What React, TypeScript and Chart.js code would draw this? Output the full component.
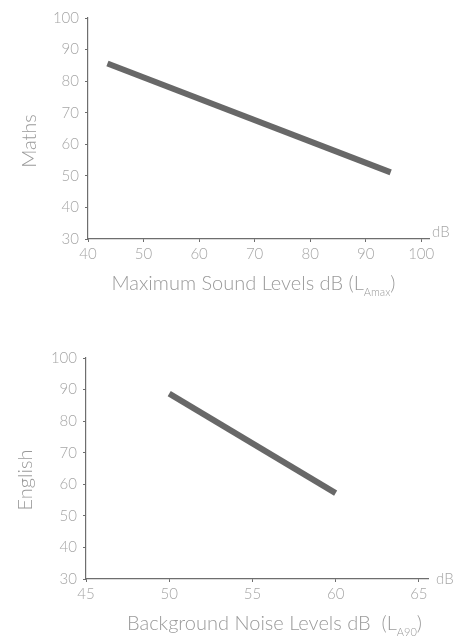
import React, { useEffect, useRef } from "react";
import { Chart, registerables } from "chart.js";

Chart.register(...registerables);

const yTicks = [30, 40, 50, 60, 70, 80, 90, 100];
const mathsXTicks = [40, 50, 60, 70, 80, 90, 100];
const englishXTicks = [45, 50, 55, 60, 65];
const mathsX = [43.5, 94.5];
const mathsY = [85.6, 51.1];
const englishX = [50, 60];
const englishY = [88.7, 57.2];

const FONT = "Lato, 'Open Sans', sans-serif";
const TICK_COLOR = "#a6a6a6";
const TITLE_COLOR = "#9a9a9a";
const AXIS_COLOR = "#6e6e6e";

type Cfg = {
  xs: number[];
  ys: number[];
  xTicks: number[];
  xMin: number;
  xMax: number;
  height: number;
  yWidth: number;
  xHeight: number;
  pad: { left: number; top: number; right: number; bottom: number };
  xTitle: string;
  sub: string;
  xTitleCenter: number;
  xTitleBaseline: number;
  yTitle: string;
  yTitleX: number;
  yTitleY: number;
  dbX: number;
  dbY: number;
};

function titlePlugin(c: Cfg) {
  return {
    id: "titles",
    afterDraw(chart: any) {
      const ctx = chart.ctx as CanvasRenderingContext2D;
      ctx.save();
      ctx.fillStyle = TITLE_COLOR;
      ctx.textBaseline = "alphabetic";
      ctx.textAlign = "left";
      const mainFont = `300 20px ${FONT}`;
      const subFont = `300 11px ${FONT}`;
      ctx.font = mainFont;
      const w1 = ctx.measureText(c.xTitle).width;
      const w3 = ctx.measureText(")").width;
      ctx.font = subFont;
      const w2 = ctx.measureText(c.sub).width;
      const total = w1 + w2 + w3;
      let x = c.xTitleCenter - total / 2;
      ctx.font = mainFont;
      ctx.fillText(c.xTitle, x, c.xTitleBaseline);
      x += w1;
      ctx.font = subFont;
      ctx.fillText(c.sub, x, c.xTitleBaseline + 6);
      x += w2;
      ctx.font = mainFont;
      ctx.fillText(")", x, c.xTitleBaseline);

      ctx.save();
      ctx.translate(c.yTitleX, c.yTitleY);
      ctx.rotate(-Math.PI / 2);
      ctx.textAlign = "center";
      ctx.textBaseline = "middle";
      ctx.font = `300 20px ${FONT}`;
      ctx.fillText(c.yTitle, 0, 0);
      ctx.restore();

      ctx.font = `300 15px ${FONT}`;
      ctx.fillStyle = TICK_COLOR;
      ctx.textAlign = "left";
      ctx.textBaseline = "alphabetic";
      ctx.fillText("dB", c.dbX, c.dbY);
      ctx.restore();
    },
  };
}

function LineChart({ c, top }: { c: Cfg; top: number }) {
  const ref = useRef<HTMLCanvasElement | null>(null);
  useEffect(() => {
    if (!ref.current) return;
    const chart = new Chart(ref.current, {
      type: "scatter",
      data: {
        datasets: [
          {
            data: c.xs.map((x, i) => ({ x, y: c.ys[i] })),
            showLine: true,
            borderColor: "#686868",
            borderWidth: 6,
            borderCapStyle: "butt",
            pointRadius: 0,
            fill: false,
          },
        ],
      },
      options: {
        animation: false,
        responsive: false,
        maintainAspectRatio: false,
        events: [],
        layout: { padding: c.pad },
        plugins: { legend: { display: false }, tooltip: { enabled: false } },
        scales: {
          x: {
            type: "linear",
            min: c.xMin,
            max: c.xMax,
            afterBuildTicks: (s: any) => {
              s.ticks = c.xTicks.map((v) => ({ value: v }));
            },
            afterFit: (s: any) => {
              s.height = c.xHeight;
            },
            grid: {
              drawOnChartArea: false,
              drawTicks: true,
              tickLength: 3,
              color: AXIS_COLOR,
            },
            border: { color: AXIS_COLOR, width: 1.2 },
            ticks: {
              color: TICK_COLOR,
              font: { family: FONT, size: 15, weight: 300 as any },
              padding: 3,
              maxRotation: 0,
              autoSkip: false,
            },
          },
          y: {
            type: "linear",
            min: 30,
            max: 100,
            afterBuildTicks: (s: any) => {
              s.ticks = yTicks.map((v) => ({ value: v }));
            },
            afterFit: (s: any) => {
              s.width = c.yWidth;
            },
            grid: {
              drawOnChartArea: false,
              drawTicks: true,
              tickLength: 3,
              color: AXIS_COLOR,
            },
            border: { color: AXIS_COLOR, width: 1.2 },
            ticks: {
              color: TICK_COLOR,
              font: { family: FONT, size: 15, weight: 300 as any },
              padding: 6,
              autoSkip: false,
            },
          },
        },
      },
      plugins: [titlePlugin(c)],
    } as any);
    return () => chart.destroy();
  }, []);
  return (
    <canvas
      ref={ref}
      width={456}
      height={c.height}
      style={{ position: "absolute", left: 0, top, width: 456, height: c.height }}
    />
  );
}

const maths: Cfg = {
  xs: mathsX,
  ys: mathsY,
  xTicks: mathsXTicks,
  xMin: 40,
  xMax: 101.4,
  height: 320,
  yWidth: 88,
  xHeight: 320 - 239,
  pad: { left: 0, top: 18, right: 456 - 429, bottom: 0 },
  xTitle: "Maximum Sound Levels dB (L",
  sub: "Amax",
  xTitleCenter: 253.5,
  xTitleBaseline: 290,
  yTitle: "Maths",
  yTitleX: 30,
  yTitleY: 141,
  dbX: 432,
  dbY: 237,
};

const english: Cfg = {
  xs: englishX,
  ys: englishY,
  xTicks: englishXTicks,
  xMin: 45,
  xMax: 65.55,
  height: 319,
  yWidth: 86,
  xHeight: 319 - 259,
  pad: { left: 0, top: 38, right: 456 - 428, bottom: 0 },
  xTitle: "Background Noise Levels dB  (L",
  sub: "A90",
  xTitleCenter: 274.5,
  xTitleBaseline: 310,
  yTitle: "English",
  yTitleX: 26,
  yTitleY: 160,
  dbX: 436,
  dbY: 264,
};

export default function App() {
  return (
    <div style={{ position: "absolute", left: 0, top: 0, width: 456, height: 639, background: "#fff" }}>
      <LineChart c={maths} top={0} />
      <LineChart c={english} top={320} />
    </div>
  );
}
